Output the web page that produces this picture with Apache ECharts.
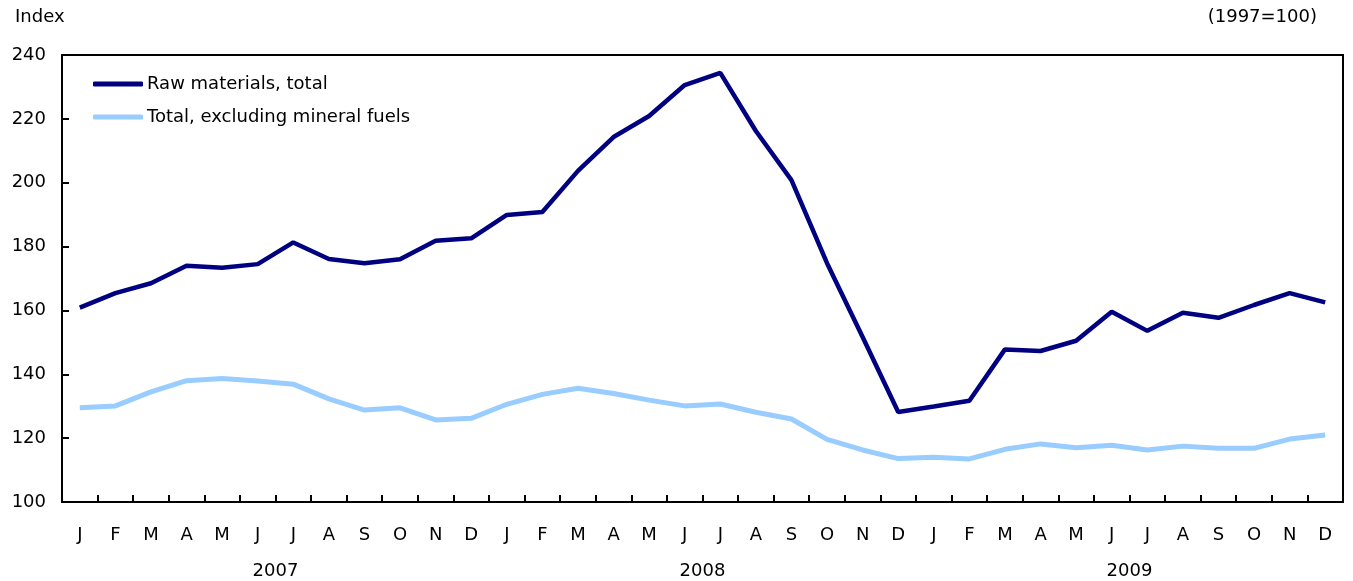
<!DOCTYPE html>
<html>
<head>
<meta charset="utf-8">
<script src="https://cdn.jsdelivr.net/npm/echarts@6/dist/echarts.min.js"></script>
<style>html,body{margin:0;padding:0;background:#fff;}#c{width:1353px;height:581px;}</style>
</head>
<body>
<div id="c"></div>
<script>
const months = ['J','F','M','A','M','J','J','A','S','O','N','D','J','F','M','A','M','J','J','A','S','O','N','D','J','F','M','A','M','J','J','A','S','O','N','D'];
const years = ['2007','2008','2009'];
const rawTotal = [160.9,165.4,168.5,174.0,173.4,174.5,181.3,176.1,174.8,176.0,181.8,182.6,
  189.9,190.8,203.7,214.3,220.9,230.6,234.4,216.2,200.8,174.8,151.7,128.2,
  129.9,131.7,147.8,147.3,150.5,159.6,153.6,159.3,157.7,161.7,165.4,162.5];
const exclFuels = [129.5,130.1,134.5,138.0,138.7,137.9,136.9,132.3,128.8,129.5,125.7,126.2,
  130.6,133.7,135.6,134.0,131.9,130.1,130.7,128.1,126.0,119.6,116.3,113.6,
  114.0,113.5,116.5,118.2,117.0,117.8,116.3,117.5,116.8,116.8,119.7,121.0];
const yTicks = {min:100, max:240, interval:20};

const font = '"DejaVu Sans", Verdana, sans-serif';
const fs = 18;
const chart = echarts.init(document.getElementById('c'));
chart.setOption({
  animation:false,
  backgroundColor:'#fff',
  textStyle:{fontFamily:font},
  grid:{left:62,right:10,top:55,bottom:79,show:true,borderColor:'#000',borderWidth:2,backgroundColor:'transparent',z:-1},
  graphic:[
    {type:'text',left:15,top:8,style:{text:'Index',font:fs+'px '+font,fill:'#000'}},
    {type:'text',right:36,top:8,style:{text:'(1997=100)',font:fs+'px '+font,fill:'#000'}}
  ],
  legend:{
    orient:'vertical',left:88,top:70,itemWidth:50,itemHeight:5,itemGap:15,
    textStyle:{fontSize:fs,color:'#000',fontFamily:font,padding:[0,0,0,-1]},
    data:[
      {name:'Raw materials, total',icon:'roundRect'},
      {name:'Total, excluding mineral fuels',icon:'roundRect'}
    ]
  },
  xAxis:[
    {type:'category',data:months,boundaryGap:true,z:5,
     axisLine:{show:true,lineStyle:{color:'#000',width:2}},
     axisTick:{show:true,inside:true,length:7,interval:0,lineStyle:{color:'#000',width:2}},
     axisLabel:{color:'#000',fontSize:fs,margin:24,interval:0,fontFamily:font},
     splitLine:{show:false}},
    {type:'category',data:years,position:'bottom',offset:0,gridIndex:0,
     axisLine:{show:false},axisTick:{show:false},
     axisLabel:{color:'#000',fontSize:fs,margin:60,fontFamily:font},
     splitLine:{show:false}}
  ],
  yAxis:{type:'value',min:yTicks.min,max:yTicks.max,interval:yTicks.interval,z:5,
    axisLine:{show:true,lineStyle:{color:'#000',width:2}},
    axisTick:{show:true,inside:true,length:7,lineStyle:{color:'#000',width:2}},
    axisLabel:{color:'#000',fontSize:fs,margin:16,fontFamily:font},
    splitLine:{show:false}},
  series:[
    {name:'Total, excluding mineral fuels',type:'line',data:exclFuels,showSymbol:false,
     itemStyle:{color:'#99ccff'},lineStyle:{color:'#99ccff',width:5}},
    {name:'Raw materials, total',type:'line',data:rawTotal,showSymbol:false,
     itemStyle:{color:'#000080'},lineStyle:{color:'#000080',width:4.5}}
  ]
});
</script>
</body>
</html>
